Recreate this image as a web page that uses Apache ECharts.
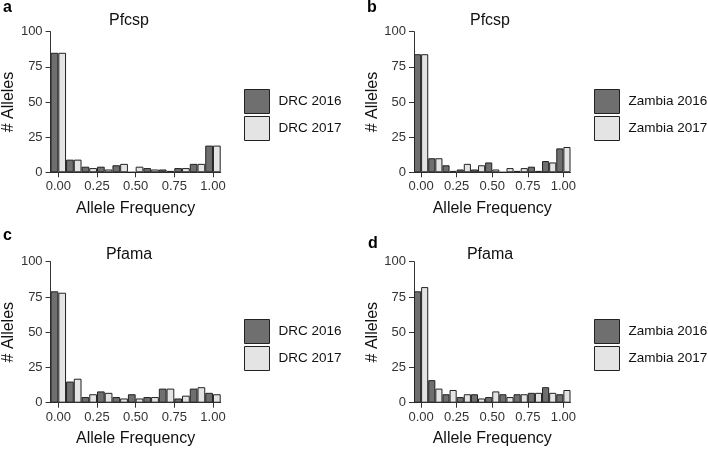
<!DOCTYPE html>
<html>
<head>
<meta charset="utf-8">
<script src="https://cdn.jsdelivr.net/npm/echarts@6/dist/echarts.min.js"></script>
<style>
  html, body { margin: 0; padding: 0; background: #fff; }
  #chart { width: 708px; height: 451px; }
</style>
</head>
<body>
<div id="chart"></div>
<script>
// allele frequency bins (bin centres), two years side by side in each bin
const bins = ['0.0', '0.1', '0.2', '0.3', '0.4', '0.5', '0.6', '0.7', '0.8', '0.9', '1.0'];
const xTicks = [0, 0.25, 0.5, 0.75, 1];

const drc2016Csp = [85, 9, 4, 4, 5, 0, 3, 2, 3, 6, 19];
const drc2017Csp = [85, 9, 3, 2, 6, 4, 2, 1, 3, 6, 19];
const zam2016Csp = [84, 10, 5, 2, 2, 7, 0, 1, 4, 8, 17];
const zam2017Csp = [84, 10, 1, 6, 5, 2, 3, 3, 1, 7, 18];
const drc2016Ama = [79, 15, 4, 8, 4, 6, 4, 10, 3, 10, 7];
const drc2017Ama = [78, 17, 6, 7, 3, 3, 4, 10, 5, 11, 6];
const zam2016Ama = [79, 16, 6, 4, 6, 4, 6, 6, 7, 11, 6];
const zam2017Ama = [82, 10, 9, 6, 3, 8, 4, 6, 7, 7, 9];

const FONT = '"Liberation Sans", Arial, sans-serif';
const DARK = '#6f6f6f';
const LIGHT = '#e4e4e4';
const INK = '#333';

// one entry per panel: grid box, title, legend spot, the two series
const panels = [
  { letter: 'a', title: 'Pfcsp', grid: { left: 48, top: 31.7, width: 172.7, height: 140.6 },
    titleX: 129, titleY: 13, letterX: 3, letterY: 0, legend: [244, 89],
    names: ['DRC 2016', 'DRC 2017'], data: [drc2016Csp, drc2017Csp] },
  { letter: 'b', title: 'Pfcsp', grid: { left: 414, top: 31.7, width: 156.5, height: 140.6 },
    titleX: 490, titleY: 13, letterX: 367, letterY: 0, legend: [594, 89],
    names: ['Zambia 2016', 'Zambia 2017'], data: [zam2016Csp, zam2017Csp] },
  { letter: 'c', title: 'Pfama', grid: { left: 48, top: 261.7, width: 172.7, height: 141 },
    titleX: 129, titleY: 247, letterX: 3, letterY: 228, legend: [244, 319],
    names: ['DRC 2016', 'DRC 2017'], data: [drc2016Ama, drc2017Ama] },
  { letter: 'd', title: 'Pfama', grid: { left: 414, top: 261.7, width: 156.5, height: 141 },
    titleX: 490, titleY: 247, letterX: 368, letterY: 236, legend: [594, 319],
    names: ['Zambia 2016', 'Zambia 2017'], data: [zam2016Ama, zam2017Ama] }
];

const chart = echarts.init(document.getElementById('chart'), null, { renderer: 'canvas' });

const grid = [], xAxis = [], yAxis = [], series = [], legend = [], graphic = [];

panels.forEach((p, i) => {
  grid.push(Object.assign({ containLabel: false }, p.grid));

  // hidden category axis that lays out the dodged bars
  xAxis.push({
    type: 'category', gridIndex: i, position: 'bottom', data: bins, show: false, boundaryGap: true
  });
  // visible value axis for the frequency ticks
  xAxis.push({
    type: 'value', gridIndex: i, position: 'bottom', min: -0.05, max: 1.05,
    name: 'Allele Frequency', nameLocation: 'middle', nameGap: 28,
    nameTextStyle: { fontFamily: FONT, fontSize: 16, color: '#111' },
    axisLine: { show: true, onZero: false, lineStyle: { color: INK, width: 1 } },
    axisTick: { show: true, length: 5, customValues: xTicks, lineStyle: { color: INK } },
    axisLabel: { customValues: xTicks, margin: 8, fontFamily: FONT, fontSize: 13, color: INK,
                 formatter: v => v.toFixed(2) },
    splitLine: { show: false }
  });
  yAxis.push({
    type: 'value', gridIndex: i, min: 0, max: 100, interval: 25,
    name: '# Alleles', nameLocation: 'middle', nameGap: 33,
    nameTextStyle: { fontFamily: FONT, fontSize: 16, color: '#111' },
    axisLine: { show: true, onZero: false, lineStyle: { color: INK, width: 1 } },
    axisTick: { show: true, length: 5, lineStyle: { color: INK } },
    axisLabel: { margin: 8, fontFamily: FONT, fontSize: 13, color: INK },
    splitLine: { show: false }
  });

  p.names.forEach((name, j) => {
    series.push({
      type: 'bar', name: name, xAxisIndex: i * 2, yAxisIndex: i,
      data: p.data[j], barGap: '0%', barCategoryGap: '0%',
      itemStyle: { color: j === 0 ? DARK : LIGHT, borderColor: '#222', borderWidth: 1 },
      emphasis: { disabled: true }, animation: false
    });
  });

  legend.push({
    data: p.names, orient: 'vertical', left: p.legend[0], top: p.legend[1],
    itemWidth: 25, itemHeight: 24, itemGap: 2, padding: 0, icon: 'rect',
    itemStyle: { borderColor: '#222', borderWidth: 1 },
    textStyle: { fontFamily: FONT, fontSize: 13.5, color: '#111', padding: [0, 0, 0, 4] },
    selectedMode: false
  });

  graphic.push({
    type: 'text', left: p.letterX, top: p.letterY,
    style: { text: p.letter, font: 'bold 16px ' + FONT, fill: '#000' }
  });
  graphic.push({
    type: 'text', x: p.titleX, y: p.titleY,
    style: { text: p.title, font: '16px ' + FONT, fill: '#111', textAlign: 'center', textVerticalAlign: 'top' }
  });
});

chart.setOption({
  backgroundColor: '#fff',
  animation: false,
  grid: grid,
  xAxis: xAxis,
  yAxis: yAxis,
  legend: legend,
  graphic: graphic,
  series: series
});
</script>
</body>
</html>
